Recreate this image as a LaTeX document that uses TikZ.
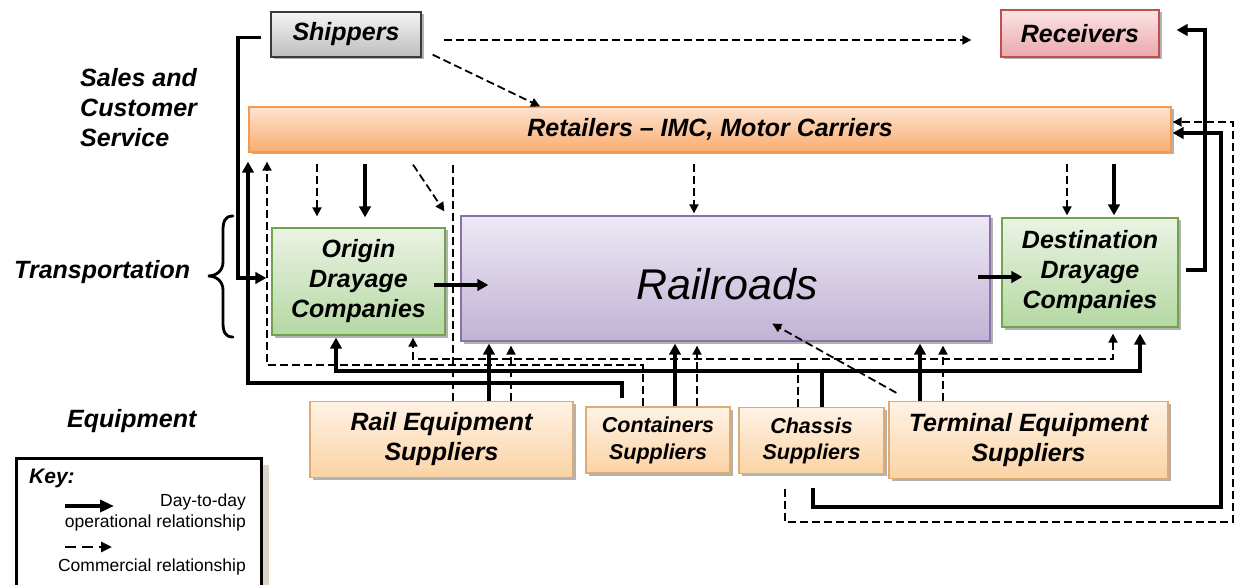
\documentclass[tikz,border=0pt]{standalone}
\usepackage{fontspec}
\setmainfont{Liberation Sans}
\usetikzlibrary{arrows.meta,shadows}

\definecolor{shipT}{HTML}{F4F4F4}
\definecolor{shipB}{HTML}{BDBDBD}
\definecolor{shipD}{HTML}{3A3A3A}
\definecolor{recvT}{HTML}{FBE4E5}
\definecolor{recvB}{HTML}{EAA8AD}
\definecolor{recvD}{HTML}{C0504D}
\definecolor{retT}{HTML}{FDE3D1}
\definecolor{retB}{HTML}{F9AC6E}
\definecolor{retD}{HTML}{F39A4E}
\definecolor{railT}{HTML}{EDE9F4}
\definecolor{railB}{HTML}{C1B2D5}
\definecolor{railD}{HTML}{8A72A8}
\definecolor{drayT}{HTML}{EBF3E4}
\definecolor{drayB}{HTML}{B4D8A2}
\definecolor{drayD}{HTML}{72A34C}
\definecolor{supT}{HTML}{FFF2E5}
\definecolor{supB}{HTML}{FBD3A4}
\definecolor{supD}{HTML}{DCAC74}
\definecolor{keysh}{HTML}{D9D4C6}

\begin{document}
\begin{tikzpicture}[x=1pt,y=-1pt,
  lbl/.style={font=\fontsize{25}{30}\selectfont\bfseries\itshape},
  box/.style={draw, line width=1.3pt, inner sep=0pt, align=center, lbl,
    drop shadow={shadow xshift=2.5pt, shadow yshift=-2.5pt, opacity=0.3, fill=black}},
  grayb/.style={box, top color=shipT, bottom color=shipB, draw=shipD},
  redb/.style={box, top color=recvT, bottom color=recvB, draw=recvD},
  orangeb/.style={box, top color=retT, bottom color=retB, draw=retD},
  purpleb/.style={box, top color=railT, bottom color=railB, draw=railD},
  greenb/.style={box, top color=drayT, bottom color=drayB, draw=drayD},
  supb/.style={box, top color=supT, bottom color=supB, draw=supD},
  oper/.style={line width=3.7pt, -{Triangle[length=11pt,width=11.5pt]}},
  operl/.style={line width=3.7pt},
  commer/.style={line width=1.8pt, dash pattern=on 8pt off 4pt, -{Triangle[length=9pt,width=9pt]}},
  commerl/.style={line width=1.8pt, dash pattern=on 8pt off 4pt},
  side/.style={lbl, inner sep=0pt, anchor=west, align=left},
  keyt/.style={font=\fontsize{17.5}{21}\selectfont, inner sep=0pt, anchor=east}
]
\useasboundingbox (0,0) rectangle (1236,585);

% boxes
\node[grayb, minimum width=150pt, minimum height=45pt] (ship) at (346,34.5) {Shippers};
\node[redb, minimum width=158pt, minimum height=47pt] (recv) at (1080,33.5) {Receivers};
\node[orangeb, minimum width=922pt, minimum height=45pt] (ret) at (710,129.5) {Retailers – IMC, Motor Carriers};
\node[purpleb, minimum width=529pt, minimum height=125pt] (rail) at (725.5,278.5) {};
\node[font=\fontsize{43}{50}\selectfont\itshape, inner sep=0pt] (railtxt) at (727,284) {Railroads};
\node[greenb, minimum width=173pt, minimum height=107pt] (orig) at (358.5,281.5) {Origin\\Drayage\\Companies};
\node[greenb, minimum width=176pt, minimum height=109pt] (dest) at (1090,272.5) {Destination\\Drayage\\Companies};
\node[supb, minimum width=263pt, minimum height=76pt] (reS) at (441.5,439.5) {Rail Equipment\\Suppliers};
\node[supb, minimum width=144pt, minimum height=66pt, font=\fontsize{21.5}{27}\selectfont\bfseries\itshape] (conS) at (658,440) {Containers\\Suppliers};
\node[supb, minimum width=145pt, minimum height=66pt, font=\fontsize{21.5}{26}\selectfont\bfseries\itshape] (chaS) at (811.5,440.5) {Chassis\\Suppliers};
\node[supb, minimum width=279pt, minimum height=77pt] (terS) at (1028.5,440) {Terminal Equipment\\Suppliers};

% side labels
\node[side] (sales) at (80,108) {Sales and\\Customer\\Service};
\node[side] (transp) at (14,272) {Transportation};
\node[side] (equip) at (67,421) {Equipment};
\draw[line width=2.8pt, line cap=round]
  (233,216) .. controls (225,216) and (223,221) .. (223,231) -- (223,262)
  .. controls (223,271) and (216,276) .. (208,276)
  .. controls (216,276) and (223,281) .. (223,290) -- (223,322)
  .. controls (223,332) and (225,337) .. (233,337);

% operational relationships
\draw[oper, shorten >=5pt] ([xshift=-9pt,yshift=-3pt]ship.west) -| (238,278) -- (orig.west |- 0,278);
\draw[oper, shorten <=8pt, shorten >=9pt] (622,0 |- conS.north) |- (248,383) -- (248,0 |- ret.south);
\draw[oper, shorten <=11pt, shorten >=10pt] (365,0 |- ret.south) -- (365,0 |- orig.north);
\draw[oper, shorten <=11pt, shorten >=2pt] (1114,0 |- ret.south) -- (1114,0 |- dest.north);
\draw[oper, shorten <=-12pt, shorten >=-28pt] (orig.east |- 0,285) -- (rail.west |- 0,285);
\draw[oper, shorten <=-13pt, shorten >=-21pt] (rail.east |- 0,277) -- (dest.west |- 0,277);
\draw[oper, shorten <=7pt, shorten >=17pt] (dest.east |- 0,270) -| (1205,30) -- (recv.east |- 0,30);
\draw[oper, shorten <=14pt, shorten >=1pt] (813,0 |- chaS.south) |- (1221,507) |- (ret.east |- 0,133);
\coordinate (chj) at (822,371);
\draw[operl] (822,0 |- chaS.north) -- (chj);
\draw[oper, shorten >=2pt] (chj) -| (336,0 |- orig.south);
\draw[oper, shorten >=6pt] (chj) -| (1140,0 |- dest.south);
\draw[oper, shorten >=2pt] (489,0 |- reS.north) -- (489,0 |- rail.south);
\draw[oper, shorten >=2pt] (675,0 |- conS.north) -- (675,0 |- rail.south);
\draw[oper, shorten >=2pt] (920,0 |- terS.north) -- (920,0 |- rail.south);

% commercial relationships
\draw[commer, shorten <=22pt, shorten >=29pt] (ship.east |- 0,40) -- (recv.west |- 0,40);
\draw[commer] ([xshift=11pt,yshift=3pt]ship.south east) -- (540,0 |- ret.north);
\draw[commer, shorten <=11pt, shorten >=11pt] (317,0 |- ret.south) -- (317,0 |- orig.north);
\draw[commer] ([yshift=-12pt]ret.south -| 413,0) -- ([xshift=-16pt,yshift=4pt]rail.north west);
\draw[commerl, shorten >=11pt] (453,0 |- reS.north) -- (453,0 |- ret.south);
\draw[commer, shorten <=11pt, shorten >=2pt] (694,0 |- ret.south) -- (694,0 |- rail.north);
\draw[commer, shorten <=11pt, shorten >=2pt] (1067,0 |- ret.south) -- (1067,0 |- dest.north);
\draw[commer, shorten >=9pt] (643,0 |- conS.north) |- (267,365) -- (267,0 |- ret.south);
\draw[commer, shorten >=4pt] (511,0 |- reS.north) -- (511,0 |- rail.south);
\draw[commer, shorten >=4pt] (697,0 |- conS.north) -- (697,0 |- rail.south);
\draw[commer, shorten >=4pt] (943,0 |- terS.north) -- (943,0 |- rail.south);
\coordinate (chd) at (798,359);
\draw[commerl] (798,0 |- chaS.north) -- (chd);
\draw[commer, shorten >=2pt] (chd) -| (413,0 |- orig.south);
\draw[commer, shorten >=6pt] (chd) -| (1113,0 |- dest.south);
\draw[commer] ([xshift=8pt,yshift=8pt]terS.north west) -- ([xshift=312pt,yshift=18pt]rail.south west);
\draw[commer, shorten <=15pt, shorten >=1pt] (785,0 |- chaS.south) |- (1233,522) |- (ret.east |- 0,122);

% key
\node[draw, line width=3pt, fill=white, inner sep=0pt, anchor=north west,
  minimum width=245pt, minimum height=160pt,
  drop shadow={shadow xshift=7pt, shadow yshift=-6pt, fill=keysh, opacity=1}] (key) at (15,457) {};
\node[font=\fontsize{21}{25}\selectfont\bfseries\itshape, inner sep=0pt, anchor=west] (keyhd) at (29,478) {Key:};
\coordinate (ka1) at (65,506);
\coordinate (ka2) at (114,506);
\coordinate (kb1) at (65,547);
\coordinate (kb2) at (112,547);
\draw[line width=3.7pt, -{Triangle[length=14pt,width=12pt]}] (ka1) -- (ka2);
\draw[line width=2.6pt, dash pattern=on 11pt off 6pt, -{Triangle[length=11pt,width=10pt]}] (kb1) -- (kb2);
\node[keyt] (kday) at (246,502) {Day-to-day};
\node[keyt] (kop) at (246,523) {operational relationship};
\node[keyt] (kcom) at (246,567) {Commercial relationship};
\end{tikzpicture}
\end{document}
